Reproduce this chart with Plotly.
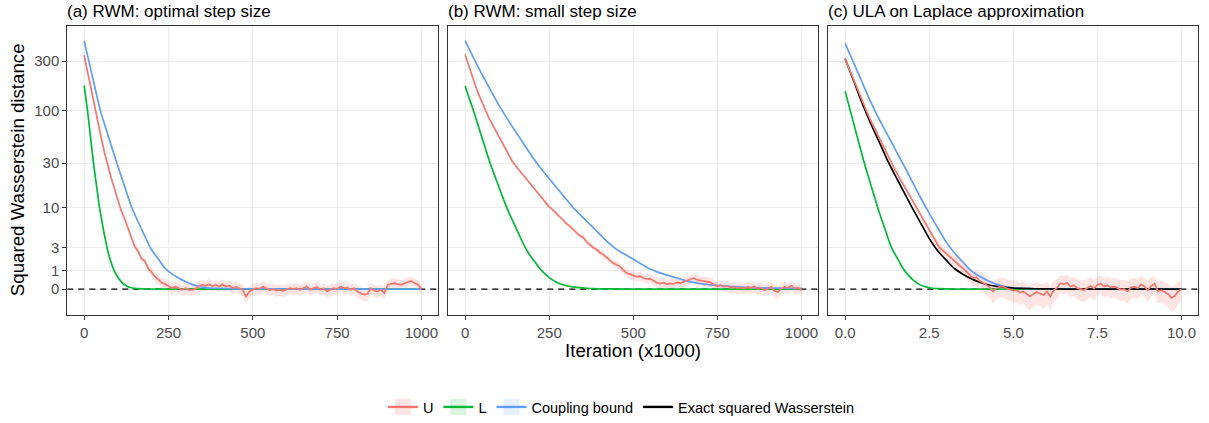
import plotly.graph_objects as go

# ---------------- data ----------------
SHIFT = 2  # axis is log(value + 2)

PANEL_TITLES = ["(a) RWM: optimal step size", "(b) RWM: small step size",
                "(c) ULA on Laplace approximation"]

Y_TICK_VALUES = [0, 1, 3, 10, 30, 100, 300]
Y_TICK_TEXT = ["0", "1", "3", "10", "30", "100", "300"]
X_TICKS_AB = [0, 250, 500, 750, 1000]
X_TICKS_C = [0, 2.5, 5, 7.5, 10]
X_RANGE_AB = [-50, 1050]
X_RANGE_C = [-0.5, 10.5]
ZERO_LEVEL = 0

# Panel (a)
ITER_A = list(range(0, 1001, 10))
U_A = [341, 235, 161, 110, 77.5, 54.8, 38.6, 27.7, 21.2, 16.1,
       12.1, 9.2, 7.4, 5.6, 4.3, 3.1, 2.6, 1.9, 1.7, 1.15,
       0.9, 0.63, 0.48, 0.3, 0.24, 0.12, 0.04, 0.12, 0.04, -0.03,
       0.04, -0.03, -0.03, 0.01, 0.12, 0.2, 0.15, 0.23, 0.13, 0.2,
       0.12, 0.23, 0.12, 0.17, 0.04, 0.1, 0.04, -0.03, -0.3, -0.1,
       -0.03, 0.04, 0.01, 0.12, 0.04, -0.04, 0.0, -0.06, -0.03, -0.07,
       -0.03, 0.04, 0.0, 0.04, -0.03, 0.04, 0.12, -0.03, 0.04, 0.1,
       -0.03, 0.04, -0.1, -0.03, 0.04, 0.01, 0.12, 0.04, 0.07, -0.03,
       0.04, -0.1, -0.17, -0.23, -0.2, 0.04, -0.07, -0.1, -0.03, -0.17,
       0.2, 0.23, 0.28, 0.23, 0.2, 0.28, 0.33, 0.4, 0.28, 0.2,
       0.0]
U_BAND_A = 0.25
BOUND_A_X = [0, 10, 20, 30, 40, 50, 60, 70, 80, 90, 100, 120, 140, 160, 180, 200,
             220, 240, 260, 280, 300, 320, 340, 360, 380, 400, 450, 500, 600, 700,
             800, 900, 1000]
BOUND_A = [470, 340, 246, 177, 128, 94, 74, 58, 45.4, 35.5, 27.8, 17.1, 10.3, 6.8, 4.4,
           2.75, 1.87, 1.16, 0.8, 0.55, 0.36, 0.22, 0.12, 0.07, 0.04, 0.03, 0.015, 0.01,
           0.005, 0.004, 0.003, 0.002, 0.002]
L_A_X = [0, 5, 10, 15, 20, 25, 30, 35, 40, 45, 50, 55, 60, 70, 80, 90, 100, 110, 120,
         130, 140, 150, 175, 200, 250, 300, 400, 600, 800, 1000]
L_A = [174, 131.6, 99, 71, 50.6, 35.9, 26, 19.3, 14.2, 10.3, 7.95, 6.1, 4.6, 2.63, 1.59,
       0.95, 0.6, 0.36, 0.2, 0.11, 0.06, 0.03, 0.01, 0.005, 0.002, 0.001, 0, 0, 0, 0]

# Panel (b)
ITER_B = list(range(0, 1001, 10))
U_B = [346, 274, 219, 176, 143.5, 119.5, 98.6, 85.6, 74.3, 64.5,
       55.9, 48.4, 41.9, 36.3, 31.3, 28.1, 25.5, 23.1, 20.9, 19.0,
       17.2, 15.5, 14.0, 12.6, 11.4, 10.2, 9.5, 8.6, 7.9, 7.25,
       6.5, 6.07, 5.54, 5.1, 4.5, 4.3, 3.73, 3.36, 3.0, 2.8,
       2.48, 2.3, 2.02, 1.81, 1.55, 1.42, 1.3, 1.06, 0.85, 0.78,
       0.7, 0.62, 0.66, 0.55, 0.5, 0.52, 0.4, 0.3, 0.26, 0.3,
       0.22, 0.27, 0.24, 0.32, 0.28, 0.35, 0.42, 0.48, 0.55, 0.45,
       0.42, 0.38, 0.35, 0.32, 0.2, 0.12, 0.18, 0.1, 0.14, 0.06,
       0.1, 0.04, 0.08, 0.02, 0.1, 0.05, 0.12, 0.0, 0.06, -0.05,
       0.02, 0.1, -0.08, -0.12, 0.02, 0.1, 0.05, 0.15, 0.02, 0.06,
       -0.06]
U_BAND_B = 0.25
BOUND_B_X = list(range(0, 1001, 25))
BOUND_B = [470, 322, 224, 159, 113, 83, 62, 46.5, 34.6, 26.5, 20.7, 16.2, 12.5, 9.66,
           7.7, 6.07, 4.7, 3.58, 2.79, 2.3, 1.86, 1.46, 1.11, 0.89, 0.72, 0.58, 0.44,
           0.33, 0.26, 0.21, 0.17, 0.135, 0.11, 0.09, 0.075, 0.065, 0.055, 0.047, 0.04,
           0.035, 0.03]
L_B_X = [0, 10, 20, 30, 40, 50, 60, 70, 80, 90, 100, 110, 120, 130, 140, 150, 160, 170,
         180, 190, 200, 210, 220, 230, 240, 250, 260, 270, 280, 290, 300, 320, 340, 360,
         380, 400, 450, 500, 600, 800, 1000]
L_B = [172, 138, 111, 88, 69, 54, 42.5, 33.2, 26.4, 21.3, 17.1, 13.7, 10.9, 8.8, 7.2,
       5.83, 4.67, 3.67, 2.9, 2.35, 1.9, 1.55, 1.2, 0.95, 0.75, 0.58, 0.45, 0.34, 0.26,
       0.2, 0.16, 0.1, 0.065, 0.04, 0.025, 0.015, 0.007, 0.003, 0.001, 0, 0]

# Panel (c)
ITER_C = [round(i * 0.1, 1) for i in range(101)]
U_C = [315, 262, 218, 181, 151, 125, 104, 88, 75, 64,
       54.7, 46.6, 39.6, 33.7, 28.7, 24.9, 21.6, 18.7, 16.1, 13.8,
       11.9, 10.2, 8.7, 7.4, 6.3, 5.3, 4.4, 3.7, 3.0, 2.68,
       2.39, 2.12, 1.86, 1.62, 1.39, 1.18, 0.95, 0.75, 0.55, 0.6,
       0.4, 0.3, 0.2, 0.08, -0.1, 0.05, 0.1, 0.12, 0.03, 0.0,
       -0.06, -0.05, -0.15, -0.1, -0.22, -0.3, -0.2, -0.12, -0.18, -0.25,
       -0.1, -0.3, -0.05, 0.05, 0.28, 0.22, 0.3, 0.12, 0.18, 0.05,
       0.0, -0.05, 0.05, 0.15, 0.02, 0.2, 0.25, 0.12, 0.18, 0.08,
       0.12, 0.05, -0.02, 0.0, -0.1, 0.08, 0.1, 0.05, 0.22, 0.12,
       -0.05, 0.15, 0.25, -0.1, -0.05, -0.12, -0.2, -0.35, -0.28, -0.1,
       0.0]
U_BAND_C = 0.45
SMOOTH_C_X = [0, 0.25, 0.5, 0.75, 1.0, 1.25, 1.5, 1.75, 2.0, 2.25, 2.5, 2.75, 3.0, 3.25,
              3.5, 3.75, 4.0, 4.25, 4.5, 4.75, 5.0, 5.25, 5.5, 5.75, 6.0, 7, 8, 9, 10]
BOUND_C = [444, 290, 189, 123, 83.3, 58.4, 40.8, 28.2, 19.2, 12.85, 8.6, 5.75, 3.66, 2.43,
           1.63, 0.99, 0.65, 0.4, 0.23, 0.11, 0.06, 0.035, 0.02, 0.015, 0.01, 0.004,
           0.002, 0.001, 0.001]
EXACT_C = [315, 195, 119, 76, 50, 32.5, 22, 14.9, 9.9, 6.5, 4.1, 2.65, 1.8, 1.15,
           0.78, 0.52, 0.33, 0.2, 0.13, 0.085, 0.05, 0.03, 0.02, 0.012, 0.008, 0.002,
           0.001, 0.0, 0.0]
L_C_X = [0, 0.1, 0.2, 0.3, 0.4, 0.5, 0.6, 0.7, 0.8, 0.9, 1.0, 1.1, 1.2, 1.3, 1.4, 1.5,
         1.6, 1.7, 1.8, 1.9, 2.0, 2.2, 2.4, 2.6, 2.8, 3.0, 3.5, 4, 5, 6, 7, 8, 9, 10]
L_C = [153, 115.6, 86.9, 65.4, 49.2, 36.8, 27.7, 21.3, 16.2, 12.25, 9.2, 7.0, 5.25, 3.82,
       2.81, 2.22, 1.7, 1.24, 0.92, 0.68, 0.48, 0.22, 0.1, 0.04, 0.02, 0.01, 0.003, 0.001,
       0, 0, 0, 0, 0, 0]

# ---------------- styling ----------------
RED, GREEN, BLUE, BLACK = "#F8766D", "#00BA38", "#619CFF", "#000000"
RED_FILL = "rgba(248,118,109,0.2)"
GREEN_FILL = "rgba(0,186,56,0.15)"
BLUE_FILL = "rgba(97,156,255,0.15)"
FONT = "Liberation Sans, Arial, sans-serif"
W, H = 1209, 423


def sh(vals):
    return [v + SHIFT for v in vals]


fig = go.Figure()

panels = [
    dict(ax="", xr=X_RANGE_AB, u_x=ITER_A, u=U_A, band=U_BAND_A, b_x=BOUND_A_X, b=BOUND_A,
         l_x=L_A_X, l=L_A, e_x=None, e=None),
    dict(ax="2", xr=X_RANGE_AB, u_x=ITER_B, u=U_B, band=U_BAND_B, b_x=BOUND_B_X, b=BOUND_B,
         l_x=L_B_X, l=L_B, e_x=None, e=None),
    dict(ax="3", xr=X_RANGE_C, u_x=ITER_C, u=U_C, band=U_BAND_C, b_x=SMOOTH_C_X, b=BOUND_C,
         l_x=L_C_X, l=L_C, e_x=SMOOTH_C_X, e=EXACT_C),
]

for p in panels:
    xa, ya = "x" + p["ax"], "y" + p["ax"]
    # dashed reference line at zero (drawn first, under the curves)
    fig.add_trace(go.Scatter(x=p["xr"], y=sh([ZERO_LEVEL, ZERO_LEVEL]), xaxis=xa, yaxis=ya,
                             mode="lines", line=dict(color="black", width=1.4, dash="6px,5px"),
                             showlegend=False, hoverinfo="skip"))
    lo = [v - p["band"] for v in p["u"]]
    hi = [v + p["band"] for v in p["u"]]
    fig.add_trace(go.Scatter(x=p["u_x"], y=sh(lo), xaxis=xa, yaxis=ya, mode="lines",
                             line=dict(width=0, color=RED), showlegend=False, hoverinfo="skip"))
    fig.add_trace(go.Scatter(x=p["u_x"], y=sh(hi), xaxis=xa, yaxis=ya, mode="lines",
                             line=dict(width=0, color=RED), fill="tonexty", fillcolor=RED_FILL,
                             showlegend=False, hoverinfo="skip"))
    fig.add_trace(go.Scatter(x=p["l_x"], y=sh(p["l"]), xaxis=xa, yaxis=ya, mode="lines",
                             line=dict(color=GREEN, width=1.7, shape="spline", smoothing=0.8),
                             showlegend=False))
    fig.add_trace(go.Scatter(x=p["b_x"], y=sh(p["b"]), xaxis=xa, yaxis=ya, mode="lines",
                             line=dict(color=BLUE, width=1.7, shape="spline", smoothing=0.8),
                             showlegend=False))
    if p["e"] is not None:
        fig.add_trace(go.Scatter(x=p["e_x"], y=sh(p["e"]), xaxis=xa, yaxis=ya, mode="lines",
                                 line=dict(color=BLACK, width=1.7, shape="spline", smoothing=0.8),
                                 showlegend=False))
    fig.add_trace(go.Scatter(x=p["u_x"], y=sh(p["u"]), xaxis=xa, yaxis=ya, mode="lines",
                             line=dict(color=RED, width=1.7), showlegend=False))

# legend-only entries
for name, col, fill in [("U", RED, RED_FILL), ("L", GREEN, GREEN_FILL),
                        ("Coupling bound", BLUE, BLUE_FILL)]:
    fig.add_trace(go.Scatter(x=[None], y=[None], mode="lines+markers", name=name,
                             line=dict(color=col, width=2.4),
                             marker=dict(symbol="square", size=22, color=fill,
                                         line=dict(width=0))))
fig.add_trace(go.Scatter(x=[None], y=[None], mode="lines", name="Exact squared Wasserstein",
                         line=dict(color=BLACK, width=2.4)))

# ---------------- layout ----------------
x_domains = [(67.3 / W, 438.3 / W), (448.3 / W, 818.3 / W), (828.3 / W, 1198.3 / W)]
y_domain = ((H - 316) / H, (H - 26) / H)

axis_common = dict(showline=True, linecolor="#333333", linewidth=1.1, mirror=True,
                   showgrid=True, gridcolor="#EBEBEB", gridwidth=1.1, zeroline=False,
                   ticks="outside", ticklen=4, tickwidth=1.1, tickcolor="#333333",
                   tickfont=dict(family=FONT, size=15, color="#4D4D4D"))

layout = dict(width=W, height=H, margin=dict(l=0, r=0, t=0, b=0),
              paper_bgcolor="white", plot_bgcolor="white",
              font=dict(family=FONT, color="black"),
              showlegend=True,
              legend=dict(orientation="h", x=0.514, xanchor="center", y=0.033,
                          yanchor="middle", traceorder="normal",
                          font=dict(family=FONT, size=14.5, color="black"),
                          itemsizing="trace", bgcolor="rgba(0,0,0,0)"))

for i, (suffix, xr, xt, xfmt) in enumerate([("", X_RANGE_AB, X_TICKS_AB, None),
                                            ("2", X_RANGE_AB, X_TICKS_AB, None),
                                            ("3", X_RANGE_C, X_TICKS_C, ".1f")]):
    xa = dict(axis_common, domain=x_domains[i], range=xr, tickvals=xt,
              anchor="y" + suffix)
    if xfmt:
        xa["tickformat"] = xfmt
    ya = dict(axis_common, domain=y_domain, type="log", range=[0.0586, 2.8156],
              tickvals=sh(Y_TICK_VALUES), ticktext=Y_TICK_TEXT, anchor="x" + suffix)
    if i > 0:
        ya["showticklabels"] = False
        ya["ticks"] = ""
    layout["xaxis" + suffix] = xa
    layout["yaxis" + suffix] = ya

annotations = []
for i, t in enumerate(PANEL_TITLES):
    annotations.append(dict(text=t, xref="paper", yref="paper", x=x_domains[i][0] - 2 / W,
                            y=(H - 12) / H, xanchor="left", yanchor="middle",
                            showarrow=False, font=dict(family=FONT, size=17, color="black")))
annotations.append(dict(text="Squared Wasserstein distance", xref="paper", yref="paper",
                        x=17 / W, y=(y_domain[0] + y_domain[1]) / 2, textangle=-90,
                        xanchor="center", yanchor="middle", showarrow=False,
                        font=dict(family=FONT, size=18.7, color="black")))
annotations.append(dict(text="Iteration (x1000)", xref="paper", yref="paper",
                        x=632.8 / W, y=(H - 352) / H, xanchor="center", yanchor="middle",
                        showarrow=False, font=dict(family=FONT, size=18.7, color="black")))
layout["annotations"] = annotations

fig.update_layout(**layout)
fig.write_html("out.html", config={"displayModeBar": False},
               post_script="document.body.style.margin='0';")
